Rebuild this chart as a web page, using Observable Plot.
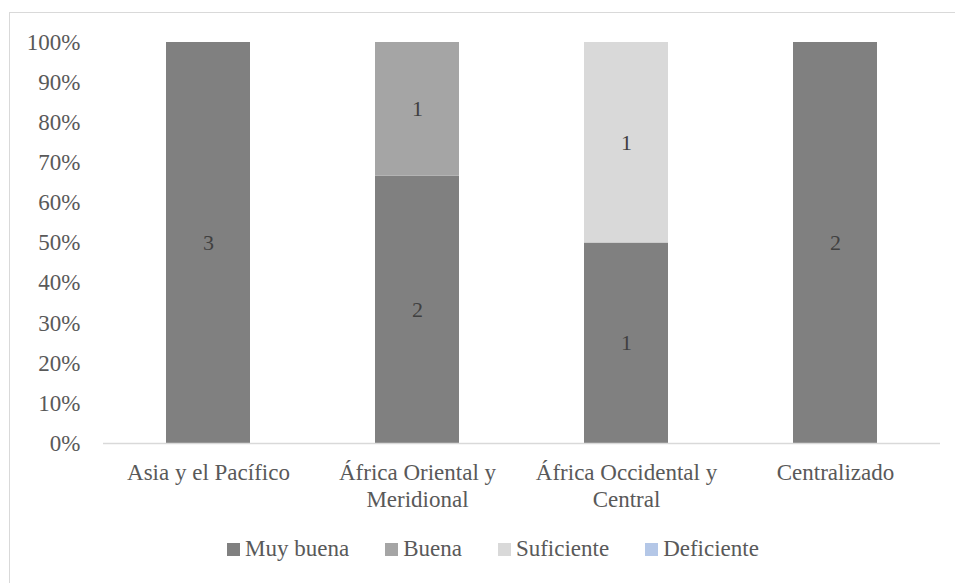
<!DOCTYPE html>
<html>
<head>
<meta charset="utf-8">
<script src="https://cdn.jsdelivr.net/npm/d3@7"></script>
<script src="https://cdn.jsdelivr.net/npm/@observablehq/plot@0.6"></script>
<style>
  html, body { margin: 0; padding: 0; background: #fff; overflow: hidden; width: 955px; height: 583px; }
  #wrap { position: relative; width: 955px; height: 583px; }
  #frame { position: absolute; left: 9px; top: 12px; width: 980px; height: 620px; border: 1px solid #d9d9d9; box-sizing: border-box; }
  #chart { position: absolute; left: 0; top: 0; }
  #legend { position: absolute; left: 227px; top: 536px; display: flex; align-items: center; font-family: "Liberation Serif", "Times New Roman", Tinos, "DejaVu Serif", "Noto Serif", serif; font-size: 23px; color: #595959; white-space: nowrap; }
  #legend .item { display: flex; align-items: center; margin-right: 36px; }
  #legend .sw { width: 13px; height: 13px; margin-right: 5px; }
  svg text { font-family: "Liberation Serif", "Times New Roman", Tinos, "DejaVu Serif", "Noto Serif", serif !important; }
</style>
</head>
<body>
<div id="wrap">
  <div id="frame"></div>
  <div id="chart"></div>
  <div id="legend"></div>
</div>
<script>
const regions = ["Asia y el Pacífico", "África Oriental y Meridional", "África Occidental y Central", "Centralizado"];
const regionLabels = ["Asia y el Pacífico", "África Oriental y\nMeridional", "África Occidental y\nCentral", "Centralizado"];
const series = ["Muy buena", "Buena", "Suficiente", "Deficiente"];
const colors = ["#808080", "#a5a5a5", "#d9d9d9", "#b4c7e7"];
const muyBuena = [3, 2, 1, 2];
const buena = [0, 1, 0, 0];
const suficiente = [0, 0, 1, 0];
const deficiente = [0, 0, 0, 0];
const yTicks = [0, 0.1, 0.2, 0.3, 0.4, 0.5, 0.6, 0.7, 0.8, 0.9, 1];

const seriesValues = [muyBuena, buena, suficiente, deficiente];
const data = [];
series.forEach((s, si) => {
  regions.forEach((r, ri) => {
    data.push({region: r, series: s, value: seriesValues[si][ri]});
  });
});
const nonZero = data.filter(d => d.value > 0);
const labelOf = new Map(regions.map((r, i) => [r, regionLabels[i]]));

const stackOpts = {x: "region", y: "value", z: "series", offset: "normalize", order: series};
const serif = "'Liberation Serif', 'Times New Roman', Tinos, 'DejaVu Serif', 'Noto Serif', serif";

const chart = Plot.plot({
  width: 955,
  height: 583,
  marginLeft: 103,
  marginRight: 15,
  marginTop: 42,
  marginBottom: 140,
  style: {fontFamily: serif, fontSize: "23px", color: "#595959", background: "transparent", overflow: "visible"},
  x: {domain: regions, paddingInner: 0.6, paddingOuter: 0.3, label: null},
  y: {domain: [0, 1], label: null},
  color: {domain: series, range: colors},
  marks: [
    Plot.barY(nonZero, Plot.stackY({...stackOpts, fill: "series"})),
    Plot.ruleY([0], {stroke: "#d9d9d9", strokeWidth: 1.5}),
    Plot.text(nonZero, Plot.stackY({...stackOpts, text: d => String(d.value), fill: "#404040", fontSize: 22, fontFamily: serif})),
    Plot.axisY({ticks: yTicks, tickFormat: d3.format(".0%"), tickSize: 0, tickPadding: 23, fill: "#595959", fontSize: 23, fontFamily: serif, label: null}),
    Plot.axisX({tickSize: 0, tickPadding: 18, tickFormat: d => labelOf.get(d), fill: "#595959", fontSize: 23, fontFamily: serif, lineHeight: 1.15, label: null})
  ]
});
document.getElementById("chart").appendChild(chart);

const legend = document.getElementById("legend");
series.forEach((s, i) => {
  const item = document.createElement("div");
  item.className = "item";
  const sw = document.createElement("div");
  sw.className = "sw";
  sw.style.background = colors[i];
  const lab = document.createElement("span");
  lab.textContent = s;
  item.appendChild(sw);
  item.appendChild(lab);
  legend.appendChild(item);
});
</script>
</body>
</html>
